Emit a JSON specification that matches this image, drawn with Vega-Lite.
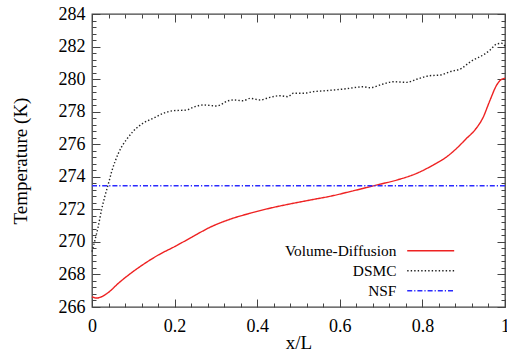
{
  "$schema": "https://vega.github.io/schema/vega-lite/v6.json",
  "width": 413,
  "height": 293,
  "autosize": {"type": "none"},
  "padding": {"left": 92, "top": 14, "right": 2, "bottom": 57},
  "background": "white",
  "config": {
    "view": {"stroke": "#444444", "strokeWidth": 1.3},
    "font": "Liberation Serif",
    "axis": {
      "domain": false,
      "grid": false,
      "tickColor": "#444444",
      "tickWidth": 1,
      "labelFont": "Liberation Serif",
      "labelFontSize": 18,
      "labelColor": "black",
      "titleFont": "Liberation Serif",
      "titleFontSize": 19,
      "titleFontWeight": "normal",
      "titleColor": "black",
      "labelOverlap": false,
      "labelBound": false,
      "labelFlush": false
    }
  },
  "datasets": {
    "curves": [
      {"s": "Volume-Diffusion", "x": 0, "T": 266.63},
      {"s": "Volume-Diffusion", "x": 0.011, "T": 266.55},
      {"s": "Volume-Diffusion", "x": 0.023, "T": 266.63},
      {"s": "Volume-Diffusion", "x": 0.04, "T": 266.9},
      {"s": "Volume-Diffusion", "x": 0.064, "T": 267.46},
      {"s": "Volume-Diffusion", "x": 0.096, "T": 268.11},
      {"s": "Volume-Diffusion", "x": 0.128, "T": 268.68},
      {"s": "Volume-Diffusion", "x": 0.161, "T": 269.2},
      {"s": "Volume-Diffusion", "x": 0.2, "T": 269.71},
      {"s": "Volume-Diffusion", "x": 0.241, "T": 270.28},
      {"s": "Volume-Diffusion", "x": 0.286, "T": 270.9},
      {"s": "Volume-Diffusion", "x": 0.334, "T": 271.39},
      {"s": "Volume-Diffusion", "x": 0.383, "T": 271.76},
      {"s": "Volume-Diffusion", "x": 0.431, "T": 272.07},
      {"s": "Volume-Diffusion", "x": 0.479, "T": 272.33},
      {"s": "Volume-Diffusion", "x": 0.528, "T": 272.57},
      {"s": "Volume-Diffusion", "x": 0.576, "T": 272.8},
      {"s": "Volume-Diffusion", "x": 0.625, "T": 273.09},
      {"s": "Volume-Diffusion", "x": 0.673, "T": 273.39},
      {"s": "Volume-Diffusion", "x": 0.697, "T": 273.54},
      {"s": "Volume-Diffusion", "x": 0.738, "T": 273.8},
      {"s": "Volume-Diffusion", "x": 0.786, "T": 274.21},
      {"s": "Volume-Diffusion", "x": 0.826, "T": 274.72},
      {"s": "Volume-Diffusion", "x": 0.859, "T": 275.23},
      {"s": "Volume-Diffusion", "x": 0.883, "T": 275.75},
      {"s": "Volume-Diffusion", "x": 0.907, "T": 276.36},
      {"s": "Volume-Diffusion", "x": 0.927, "T": 276.87},
      {"s": "Volume-Diffusion", "x": 0.947, "T": 277.65},
      {"s": "Volume-Diffusion", "x": 0.964, "T": 278.72},
      {"s": "Volume-Diffusion", "x": 0.98, "T": 279.64},
      {"s": "Volume-Diffusion", "x": 0.992, "T": 279.99},
      {"s": "Volume-Diffusion", "x": 1.0, "T": 280.05},
      {"s": "DSMC", "x": 0, "T": 269.4},
      {"s": "DSMC", "x": 0.007, "T": 270.1},
      {"s": "DSMC", "x": 0.015, "T": 270.93},
      {"s": "DSMC", "x": 0.023, "T": 271.96},
      {"s": "DSMC", "x": 0.031, "T": 272.78},
      {"s": "DSMC", "x": 0.04, "T": 273.6},
      {"s": "DSMC", "x": 0.048, "T": 274.35},
      {"s": "DSMC", "x": 0.056, "T": 274.95},
      {"s": "DSMC", "x": 0.064, "T": 275.45},
      {"s": "DSMC", "x": 0.072, "T": 275.85},
      {"s": "DSMC", "x": 0.084, "T": 276.3},
      {"s": "DSMC", "x": 0.1, "T": 276.8},
      {"s": "DSMC", "x": 0.124, "T": 277.3},
      {"s": "DSMC", "x": 0.149, "T": 277.6},
      {"s": "DSMC", "x": 0.173, "T": 277.9},
      {"s": "DSMC", "x": 0.197, "T": 278.06},
      {"s": "DSMC", "x": 0.229, "T": 278.1},
      {"s": "DSMC", "x": 0.245, "T": 278.27},
      {"s": "DSMC", "x": 0.27, "T": 278.41},
      {"s": "DSMC", "x": 0.302, "T": 278.35},
      {"s": "DSMC", "x": 0.33, "T": 278.67},
      {"s": "DSMC", "x": 0.342, "T": 278.72},
      {"s": "DSMC", "x": 0.366, "T": 278.67},
      {"s": "DSMC", "x": 0.383, "T": 278.82},
      {"s": "DSMC", "x": 0.407, "T": 278.72},
      {"s": "DSMC", "x": 0.431, "T": 278.88},
      {"s": "DSMC", "x": 0.455, "T": 278.98},
      {"s": "DSMC", "x": 0.475, "T": 278.92},
      {"s": "DSMC", "x": 0.487, "T": 279.13},
      {"s": "DSMC", "x": 0.512, "T": 279.13},
      {"s": "DSMC", "x": 0.536, "T": 279.23},
      {"s": "DSMC", "x": 0.568, "T": 279.29},
      {"s": "DSMC", "x": 0.584, "T": 279.33},
      {"s": "DSMC", "x": 0.609, "T": 279.39},
      {"s": "DSMC", "x": 0.625, "T": 279.44},
      {"s": "DSMC", "x": 0.641, "T": 279.5},
      {"s": "DSMC", "x": 0.657, "T": 279.53},
      {"s": "DSMC", "x": 0.673, "T": 279.47},
      {"s": "DSMC", "x": 0.705, "T": 279.7},
      {"s": "DSMC", "x": 0.73, "T": 279.84},
      {"s": "DSMC", "x": 0.762, "T": 279.8},
      {"s": "DSMC", "x": 0.786, "T": 279.99},
      {"s": "DSMC", "x": 0.818, "T": 280.21},
      {"s": "DSMC", "x": 0.843, "T": 280.25},
      {"s": "DSMC", "x": 0.867, "T": 280.46},
      {"s": "DSMC", "x": 0.895, "T": 280.66},
      {"s": "DSMC", "x": 0.911, "T": 280.97},
      {"s": "DSMC", "x": 0.923, "T": 281.17},
      {"s": "DSMC", "x": 0.947, "T": 281.48},
      {"s": "DSMC", "x": 0.964, "T": 281.79},
      {"s": "DSMC", "x": 0.98, "T": 282.16},
      {"s": "DSMC", "x": 0.992, "T": 282.2},
      {"s": "DSMC", "x": 1.0, "T": 282.03},
      {"s": "NSF", "x": 0, "T": 273.45},
      {"s": "NSF", "x": 1, "T": 273.45}
    ]
  },
  "data": {"name": "curves"},
  "resolve": {"axis": {"x": "independent", "y": "independent"}},
  "layer": [
    {
      "transform": [{"filter": "datum.s !== 'NSF'"}],
      "mark": {"type": "line", "strokeWidth": 1.4, "interpolate": "monotone"},
      "encoding": {
        "x": {
          "field": "x", "type": "quantitative",
          "scale": {"domain": [0, 1], "nice": false, "zero": false},
          "axis": {
            "orient": "bottom",
            "title": "x/L",
            "titlePadding": -6,
            "labelPadding": 18,
            "values": [0,0.04,0.08,0.12,0.16,0.2,0.24,0.28,0.32,0.36,0.4,0.44,0.48,0.52,0.56,0.6,0.64,0.68,0.72,0.76,0.8,0.84,0.88,0.92,0.96,1],
            "labelExpr": "abs(datum.value*5 - round(datum.value*5)) < 0.001 ? format(datum.value, '~g') : ''",
            "tickSize": {"condition": {"test": "abs(datum.value*5 - round(datum.value*5)) < 0.001", "value": -8}, "value": -4}
          }
        },
        "y": {
          "field": "T", "type": "quantitative",
          "scale": {"domain": [266, 284], "nice": false, "zero": false},
          "axis": {
            "orient": "left",
            "title": "Temperature (K)",
            "titlePadding": 28,
            "labelPadding": 15,
            "values": [266,266.4,266.8,267.2,267.6,268,268.4,268.8,269.2,269.6,270,270.4,270.8,271.2,271.6,272,272.4,272.8,273.2,273.6,274,274.4,274.8,275.2,275.6,276,276.4,276.8,277.2,277.6,278,278.4,278.8,279.2,279.6,280,280.4,280.8,281.2,281.6,282,282.4,282.8,283.2,283.6,284],
            "labelExpr": "abs(datum.value/2 - round(datum.value/2)) < 0.001 ? format(datum.value, 'd') : ''",
            "tickSize": {"condition": {"test": "abs(datum.value/2 - round(datum.value/2)) < 0.001", "value": -8}, "value": -4}
          }
        },
        "color": {
          "field": "s", "type": "nominal",
          "scale": {"domain": ["Volume-Diffusion", "DSMC", "NSF"], "range": ["#ee2222", "#222222", "#2a2aff"]},
          "legend": {
            "orient": "none", "legendX": 331, "legendY": 229,
            "title": null, "symbolType": "M-4,0H4", "symbolSize": 138,
            "symbolStrokeWidth": 1.4, "labelAlign": "right", "labelOffset": -42,
            "labelFont": "Liberation Serif", "labelFontSize": 15.4, "labelColor": "black",
            "rowPadding": 3, "padding": 0
          }
        },
        "strokeDash": {
          "field": "s", "type": "nominal",
          "scale": {"domain": ["Volume-Diffusion", "DSMC", "NSF"], "range": [[1, 0], [1.4, 2.1], [5, 2, 1.2, 2]]},
          "legend": {
            "orient": "none", "legendX": 331, "legendY": 229,
            "title": null, "symbolType": "M-4,0H4", "symbolSize": 138,
            "symbolStrokeWidth": 1.4, "labelAlign": "right", "labelOffset": -42,
            "labelFont": "Liberation Serif", "labelFontSize": 15.4, "labelColor": "black",
            "rowPadding": 3, "padding": 0
          }
        }
      }
    },
    {
      "transform": [{"filter": "datum.s === 'NSF'"}],
      "mark": {"type": "line", "strokeWidth": 1.4},
      "encoding": {
        "x": {
          "field": "x", "type": "quantitative",
          "axis": {
            "orient": "top", "title": null, "labels": false,
            "values": [0,0.04,0.08,0.12,0.16,0.2,0.24,0.28,0.32,0.36,0.4,0.44,0.48,0.52,0.56,0.6,0.64,0.68,0.72,0.76,0.8,0.84,0.88,0.92,0.96,1],
            "tickSize": {"condition": {"test": "abs(datum.value*5 - round(datum.value*5)) < 0.001", "value": -8}, "value": -4}
          }
        },
        "y": {
          "field": "T", "type": "quantitative",
          "axis": {
            "orient": "right", "title": null, "labels": false,
            "values": [266,266.4,266.8,267.2,267.6,268,268.4,268.8,269.2,269.6,270,270.4,270.8,271.2,271.6,272,272.4,272.8,273.2,273.6,274,274.4,274.8,275.2,275.6,276,276.4,276.8,277.2,277.6,278,278.4,278.8,279.2,279.6,280,280.4,280.8,281.2,281.6,282,282.4,282.8,283.2,283.6,284],
            "tickSize": {"condition": {"test": "abs(datum.value/2 - round(datum.value/2)) < 0.001", "value": -8}, "value": -4}
          }
        },
        "color": {"field": "s", "type": "nominal"},
        "strokeDash": {"field": "s", "type": "nominal"}
      }
    }
  ]
}
